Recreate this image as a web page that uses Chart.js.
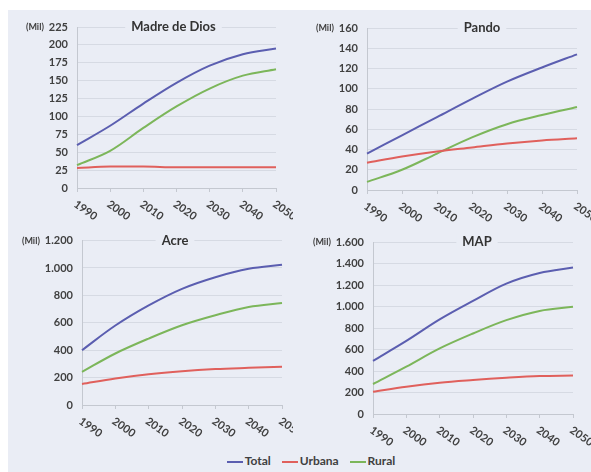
<!DOCTYPE html>
<html>
<head>
<meta charset="utf-8">
<script src="https://cdn.jsdelivr.net/npm/chart.js@4"></script>
<style>
  html, body { margin: 0; padding: 0; background: #fff; }
  #page { position: relative; width: 591px; height: 472px; overflow: hidden; }
  #bg { position: absolute; left: 8px; top: 10px; right: 0; bottom: 0; background: #eaedf5; }
  canvas { position: absolute; }
  #legend {
    position: absolute; left: 0; width: 622px; top: 453px; text-align: center;
    font: bold 12px Lato, "Open Sans", sans-serif; color: #404040;
  }
  #legend span { margin: 0 4px; }
  #legend i { display: inline-block; width: 16px; height: 2px; vertical-align: middle; margin-right: 2px; }
</style>
</head>
<body>
<div id="page">
  <div id="bg"></div>
  <canvas id="c1" width="293" height="225" style="left:0;top:0"></canvas>
  <canvas id="c2" width="298" height="225" style="left:293px;top:0"></canvas>
  <canvas id="c3" width="293" height="222" style="left:0;top:225px"></canvas>
  <canvas id="c4" width="298" height="222" style="left:293px;top:225px"></canvas>
  <div id="legend">
    <span><i style="background:#5b5eb0"></i>Total</span>
    <span><i style="background:#e0605c"></i>Urbana</span>
    <span><i style="background:#7cb65a"></i>Rural</span>
  </div>
</div>
<script>
const YEARS = ["1990", "2000", "2010", "2020", "2030", "2040", "2050"];

// Madre de Dios
const MD_TOTAL  = [60, 87, 118, 147, 171, 187, 195];
const MD_URBANA = [28, 30, 30, 29, 29, 29, 29];
const MD_RURAL  = [32, 52, 84, 114, 139, 157, 166];

// Pando
const PA_TOTAL  = [36, 54, 72, 90, 107, 121, 134];
const PA_URBANA = [27, 33, 38, 42, 46, 49, 51];
const PA_RURAL  = [8, 20, 36, 52, 65, 74, 82];

// Acre
const AC_TOTAL  = [400, 580, 727, 848, 933, 994, 1023];
const AC_URBANA = [153, 194, 225, 247, 262, 271, 279];
const AC_RURAL  = [242, 376, 485, 582, 655, 715, 744];

// MAP
const MP_TOTAL  = [495, 680, 880, 1052, 1213, 1312, 1362];
const MP_URBANA = [207, 254, 291, 316, 337, 353, 358];
const MP_RURAL  = [279, 440, 610, 749, 873, 959, 997];

const COLORS = { total: "#5b5eb0", urbana: "#e0605c", rural: "#7cb65a" };
const BG = "#eaedf5";
const TEXT = "#404040";
const FONT = 'Lato, "Open Sans", sans-serif';

Chart.defaults.font.family = FONT;
Chart.defaults.color = TEXT;

function fmt(v) {
  return String(v).replace(/\B(?=(\d{3})+(?!\d))/g, ".");
}

/**
 * Títulos, "(Mil)" e rótulos inclinados do eixo x
 */
const panelText = {
  id: "panelText",
  afterDraw(chart, args, opts) {
    const { ctx, chartArea } = chart;
    const x = chart.scales.x, y = chart.scales.y;
    ctx.save();
    ctx.fillStyle = TEXT;

    // rótulos do eixo x, inclinados para baixo
    ctx.font = "bold 11px " + FONT;
    ctx.textAlign = "left";
    ctx.textBaseline = "middle";
    x.ticks.forEach((t, i) => {
      ctx.save();
      ctx.translate(x.getPixelForTick(i) - 2, chartArea.bottom + 15);
      ctx.rotate(35 * Math.PI / 180);
      ctx.fillText(x.getLabelForValue(t.value), 0, 0);
      ctx.restore();
    });

    // "(Mil)" à esquerda do maior rótulo
    ctx.font = "bold 11px " + FONT;
    const top = y.ticks[y.ticks.length - 1];
    const topY = y.getPixelForValue(top.value);
    const w = ctx.measureText(fmt(top.value)).width;
    ctx.font = "bold 9px " + FONT;
    ctx.textAlign = "right";
    ctx.fillText("(Mil)", chartArea.left - 9 - w - 5, topY);

    // título sobre a linha de grade superior
    ctx.font = "bold 13px " + FONT;
    const tw = ctx.measureText(opts.title).width;
    const cx = (chartArea.left + chartArea.right) / 2 + opts.dx;
    ctx.fillStyle = BG;
    ctx.fillRect(cx - tw / 2 - 6, chartArea.top - 8, tw + 12, 16);
    ctx.fillStyle = "#333";
    ctx.textAlign = "center";
    ctx.fillText(opts.title, cx, chartArea.top);
    ctx.restore();
  }
};

function makePanel(id, title, total, urbana, rural, yMax, yStep, box) {
  const line = (label, data, color) => ({
    label, data,
    borderColor: color,
    borderWidth: 2,
    pointRadius: 0,
    tension: 0.35,
    fill: false
  });

  return new Chart(document.getElementById(id), {
    type: "line",
    data: {
      labels: YEARS,
      datasets: [
        line("Total", total, COLORS.total),
        line("Urbana", urbana, COLORS.urbana),
        line("Rural", rural, COLORS.rural)
      ]
    },
    options: {
      responsive: false,
      animation: false,
      devicePixelRatio: 1,
      layout: { padding: { top: box.top, right: box.right, left: 0, bottom: 0 } },
      plugins: {
        legend: { display: false },
        tooltip: { enabled: false },
        panelText: { title, dx: box.dx }
      },
      scales: {
        x: {
          ticks: { display: false },
          grid: { drawOnChartArea: false, drawTicks: true, tickLength: 4, color: "#c4c8d0" },
          border: { color: "#c4c8d0" },
          afterFit: s => { s.height = box.xh; }
        },
        y: {
          min: 0,
          max: yMax,
          ticks: {
            stepSize: yStep,
            padding: 9,
            font: { size: 11, weight: "bold" },
            callback: v => fmt(v)
          },
          grid: { color: "#d6dae3", drawTicks: false },
          border: { color: "#c4c8d0" },
          afterFit: s => { s.width = box.yw; }
        }
      }
    },
    plugins: [panelText]
  });
}

makePanel("c1", "Madre de Dios", MD_TOTAL, MD_URBANA, MD_RURAL, 225, 25,
  { yw: 77, top: 27, xh: 37, right: 17, dx: -3 });
makePanel("c2", "Pando", PA_TOTAL, PA_URBANA, PA_RURAL, 160, 20,
  { yw: 74, top: 28, xh: 35, right: 14, dx: 10 });
makePanel("c3", "Acre", AC_TOTAL, AC_URBANA, AC_RURAL, 1200, 200,
  { yw: 82, top: 15, xh: 42, right: 11, dx: -7 });
makePanel("c4", "MAP", MP_TOTAL, MP_URBANA, MP_RURAL, 1600, 200,
  { yw: 80, top: 17, xh: 33, right: 18, dx: 4 });
</script>
</body>
</html>
